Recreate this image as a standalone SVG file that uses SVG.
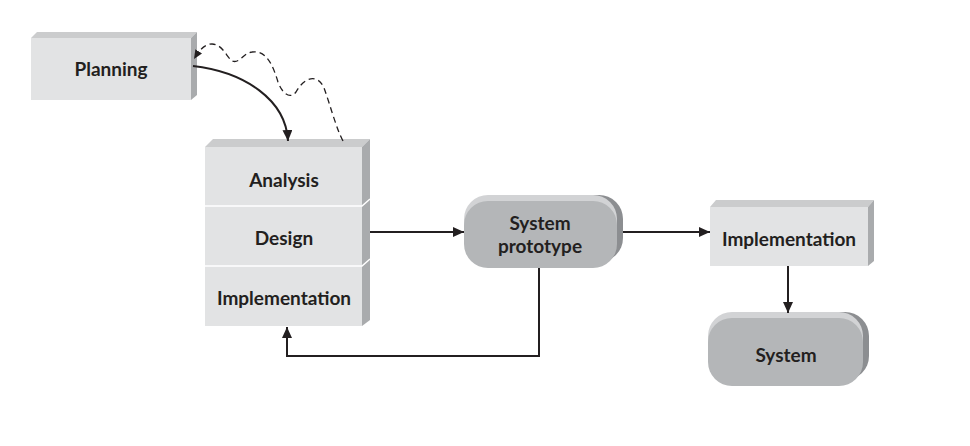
<svg xmlns="http://www.w3.org/2000/svg" width="970" height="446" viewBox="0 0 970 446">
  <style>
    .front { fill: #e2e3e4; }
    .top { fill: #cbcccd; }
    .side { fill: #a9abad; }
    .divider { stroke: #ffffff; stroke-width: 1.5; fill: none; }
    .pill-front { fill: #b4b6b8; }
    .pill-top { fill: #d2d3d5; }
    .pill-side { fill: #8c8e91; }
    .label { font-family: Lato, "Liberation Sans", sans-serif; font-weight: bold; font-size: 19px; fill: #231f20; text-anchor: middle; }
    .wire { stroke: #231f20; stroke-width: 2; fill: none; }
    .dashed { stroke: #231f20; stroke-width: 1.3; fill: none; stroke-dasharray: 6 4; }
  </style>
  <defs>
    <marker id="arrow" markerUnits="userSpaceOnUse" markerWidth="12" markerHeight="10" refX="11" refY="5" orient="auto">
      <path d="M0,0 L11,5 L0,10 z" fill="#231f20"/>
    </marker>
    <marker id="arrow-small" markerUnits="userSpaceOnUse" markerWidth="10" markerHeight="8" refX="9" refY="4" orient="auto">
      <path d="M0,0 L9,4 L0,8 z" fill="#231f20"/>
    </marker>
  </defs>

  <rect width="970" height="446" fill="#ffffff"/>

  <!-- Planning block -->
  <g id="planning">
    <polygon class="top" points="31,38 37,32 197,32 191,38"/>
    <polygon class="side" points="191,38 197,32 197,95 191,100"/>
    <rect class="front" x="31" y="38" width="160" height="62"/>
    <text class="label" x="111" y="76">Planning</text>
  </g>

  <!-- Stacked block: analysis / design / implementation -->
  <g id="phase-stack">
    <polygon class="top" points="205,147 213,139 370,139 362,147"/>
    <polygon class="side" points="362,147 370,139 370,320 362,326"/>
    <rect class="front" x="205" y="147" width="157" height="179"/>
    <path class="divider" d="M205,206 H362 L370,199 M205,266 H362 L370,259"/>
    <g id="analysis">
      <text class="label" x="284" y="187">Analysis</text>
    </g>
    <g id="design">
      <text class="label" x="284" y="245">Design</text>
    </g>
    <g id="implementation-stack">
      <text class="label" x="284" y="305">Implementation</text>
    </g>
  </g>

  <!-- System prototype pill -->
  <g id="system-prototype">
    <rect class="pill-side" x="470" y="195" width="153" height="67" rx="24"/>
    <rect class="pill-top" x="464" y="195" width="153" height="67" rx="24"/>
    <rect class="pill-front" x="464" y="201" width="153" height="67" rx="24"/>
    <text class="label" x="540" y="230">System</text>
    <text class="label" x="540" y="253">prototype</text>
  </g>

  <!-- Implementation block -->
  <g id="implementation">
    <polygon class="top" points="710,207 716,200 874,200 868,207"/>
    <polygon class="side" points="868,207 874,200 874,261 868,266"/>
    <rect class="front" x="710" y="207" width="158" height="59"/>
    <text class="label" x="789" y="246">Implementation</text>
  </g>

  <!-- System pill -->
  <g id="system">
    <rect class="pill-side" x="714" y="312" width="155" height="68" rx="24"/>
    <rect class="pill-top" x="708" y="312" width="155" height="68" rx="24"/>
    <rect class="pill-front" x="708" y="318" width="155" height="68" rx="24"/>
    <text class="label" x="786" y="362">System</text>
  </g>

  <!-- Connectors -->
  <g id="connectors">
    <path class="wire" stroke-width="2.5" d="M193,66 C245,72 286,100 288,141" marker-end="url(#arrow)"/>
    <path class="dashed" d="M343,141 C336,128 330,104 324,88 C318,74 305,76 296,92 C290,100 282,93 278,82 C272,62 265,50 252,52 C243,53 240,64 232,61 C226,56 222,44 212,44 C204,44 199,51 194,59" marker-end="url(#arrow-small)"/>
    <path class="wire" d="M370,232 H464" marker-end="url(#arrow)"/>
    <path class="wire" d="M623,232 H710" marker-end="url(#arrow)"/>
    <path class="wire" d="M788,266 V313" marker-end="url(#arrow)"/>
    <path class="wire" d="M539,268 V356 H287 V327" marker-end="url(#arrow)"/>
  </g>
</svg>
